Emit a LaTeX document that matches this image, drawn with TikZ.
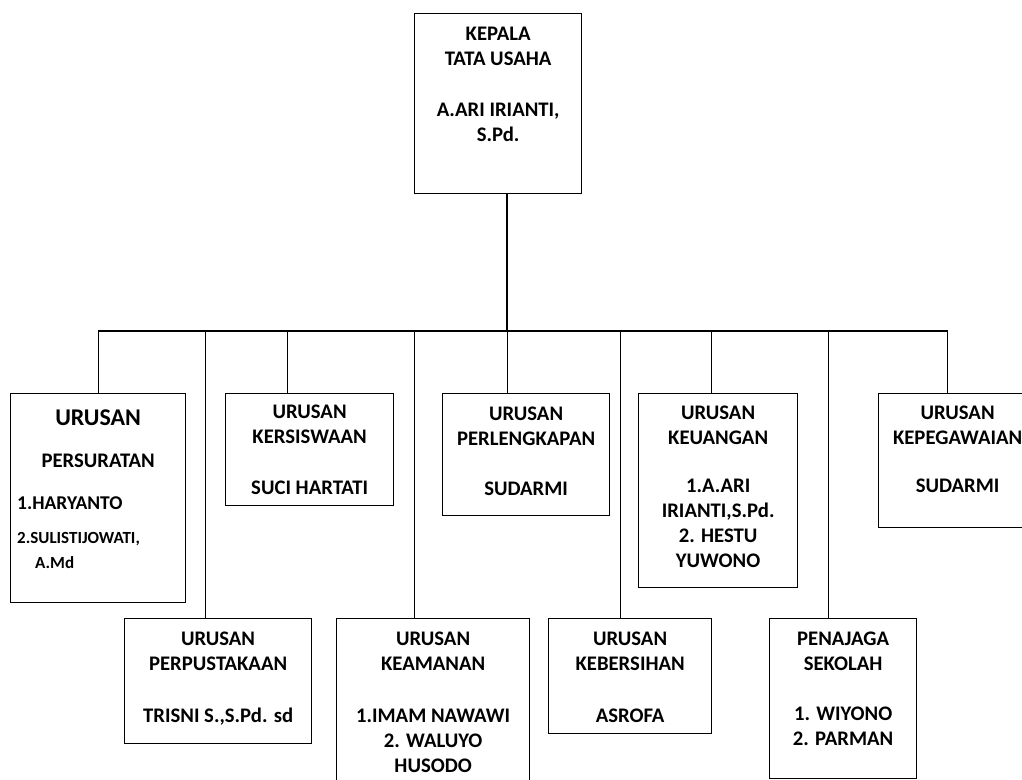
\documentclass[tikz,border=0pt]{standalone}
\usepackage{fontspec}
\setmainfont{Carlito}
\usetikzlibrary{positioning}
\tikzset{%
	kotak/.style = {draw, rectangle, line width=1.3pt, anchor=north west, inner sep=0pt},
	teks/.style  = {align=center, inner sep=0pt, font=\bfseries\fontsize{20.7}{25}\selectfont},
	garis/.style = {line width=1.1pt},
}

\begin{document}
\begin{tikzpicture}[x=1pt,y=-1pt]
	\useasboundingbox (0,0) rectangle (1022,779);
	% kepala
	\node[kotak, minimum width=167pt, minimum height=180pt] (kepala) at (414,13) {};
	\node[teks, below=14pt of kepala.north] (kepala-t) {KEPALA\\TATA USAHA\\[26pt]A.ARI IRIANTI,\\S.Pd.};
	% baris atas
	\node[kotak, minimum width=175pt, minimum height=209pt] (persuratan) at (10,393) {};
	\node[kotak, minimum width=168pt, minimum height=112pt] (kersiswaan) at (225,393) {};
	\node[kotak, minimum width=167pt, minimum height=122pt] (perlengkapan) at (442,393) {};
	\node[kotak, minimum width=159pt, minimum height=194pt] (keuangan) at (638,393) {};
	\node[kotak, minimum width=158pt, minimum height=134pt] (kepegawaian) at (878,393) {};
	% baris bawah
	\node[kotak, minimum width=187pt, minimum height=125pt] (perpustakaan) at (124,618) {};
	\node[kotak, minimum width=193pt, minimum height=190pt] (keamanan) at (336,618) {};
	\node[kotak, minimum width=163pt, minimum height=115pt] (kebersihan) at (548,618) {};
	\node[kotak, minimum width=147pt, minimum height=160pt] (penjaga) at (769,618) {};
	% isi kotak
	\node[teks, below=17pt of persuratan.north] (persuratan-t) {{\fontsize{24}{25}\selectfont URUSAN}\\[17pt]PERSURATAN};
	\node[teks, align=left, below right=104pt and 7pt of persuratan.north west] (persuratan-n)
		{{\fontsize{19.5}{25}\selectfont 1.HARYANTO}\\[9pt]{\fontsize{17}{25}\selectfont 2.SULISTIJOWATI,}\\\hspace*{18pt}{\fontsize{17}{25}\selectfont A.Md}};
	\node[teks, below=12pt of kersiswaan.north] (kersiswaan-t) {URUSAN\\KERSISWAAN\\[26pt]SUCI HARTATI};
	\node[teks, below=14pt of perlengkapan.north] (perlengkapan-t) {URUSAN\\PERLENGKAPAN\\[25pt]SUDARMI};
	\node[teks, below=13pt of keuangan.north] (keuangan-t) {URUSAN\\KEUANGAN\\[23pt]1.A.ARI\\IRIANTI,S.Pd.\\2. HESTU\\YUWONO};
	\node[teks, below=13pt of kepegawaian.north] (kepegawaian-t) {URUSAN\\KEPEGAWAIAN\\[23pt]SUDARMI};
	\node[teks, below=14pt of perpustakaan.north] (perpustakaan-t) {URUSAN\\PERPUSTAKAAN\\[27pt]TRISNI S.,S.Pd. sd};
	\node[teks, below=14pt of keamanan.north] (keamanan-t) {URUSAN\\KEAMANAN\\[27pt]1.IMAM NAWAWI\\2. WALUYO\\HUSODO};
	\node[teks, below=14pt of kebersihan.north] (kebersihan-t) {URUSAN\\KEBERSIHAN\\[27pt]ASROFA};
	\node[teks, below=14pt of penjaga.north] (penjaga-t) {PENAJAGA\\SEKOLAH\\[25pt]1. WIYONO\\2. PARMAN};
	% garis
	\coordinate (bus) at (507,331);
	\draw[garis] (kepala.south -| bus) -- (bus);
	\foreach \n/\dx in {persuratan/0,kersiswaan/-22,perlengkapan/-18.5,keuangan/-6.5,kepegawaian/-10,
		perpustakaan/-12.5,keamanan/-18.5,kebersihan/-9.5,penjaga/-14.5}
		\draw[garis] ([xshift=\dx pt]\n.north) |- (bus);
\end{tikzpicture}
\end{document}
